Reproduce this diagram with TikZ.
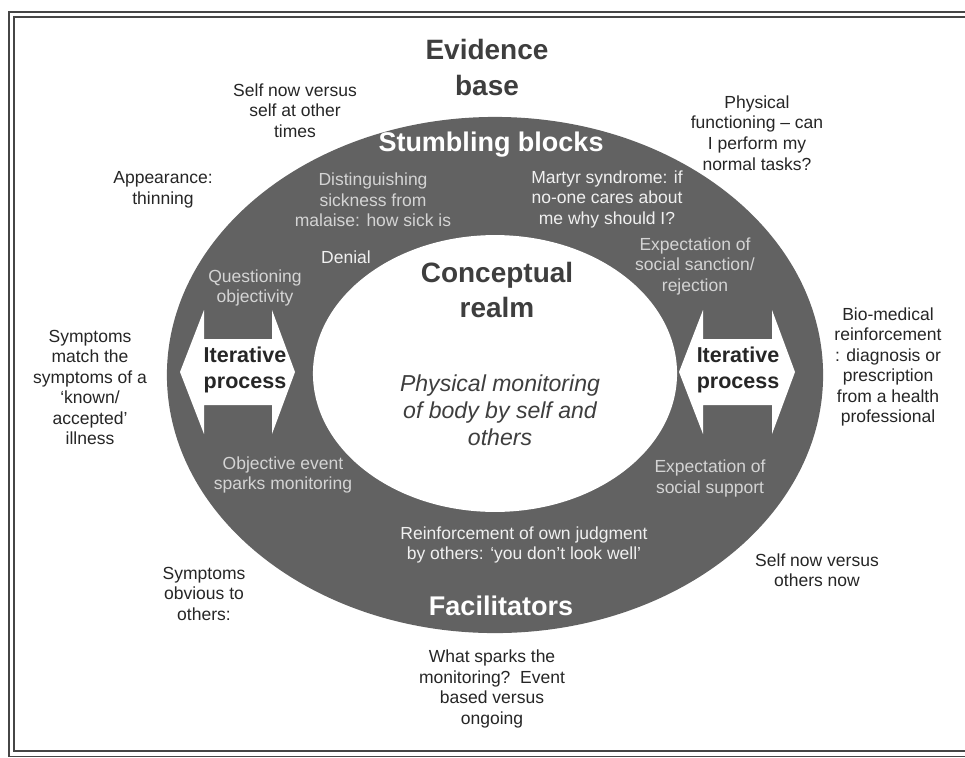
\documentclass[tikz,border=0pt]{standalone}
\usepackage{fontspec}
\setmainfont{Liberation Sans}
\definecolor{ringgray}{RGB}{98,98,98}
\definecolor{ringtext}{RGB}{212,212,212}
\definecolor{outtext}{RGB}{38,38,38}
\definecolor{headtext}{RGB}{62,62,62}
\definecolor{framegray}{RGB}{70,70,70}
\tikzset{
	outlabel/.style={align=center, inner sep=0pt, text=outtext, font=\fontsize{12.45}{14.6}\selectfont},
	ringlabel/.style={outlabel, text=ringtext},
	ringbright/.style={outlabel, text=white!94!black},
	bighead/.style={align=center, inner sep=0pt, text=headtext, font=\bfseries\fontsize{19.9}{24.9}\selectfont},
	ringhead/.style={align=center, inner sep=0pt, text=white, font=\bfseries\fontsize{19.2}{22}\selectfont},
	itertext/.style={align=center, inner sep=0pt, text=outtext, font=\bfseries\fontsize{15.3}{18.1}\selectfont},
	realmtext/.style={align=center, inner sep=0pt, text=headtext, font=\itshape\fontsize{16.4}{19.2}\selectfont},
	blockarrow/.style={fill=white, draw=none}
}
\begin{document}
\begin{tikzpicture}[x=0.025cm, y=-0.025cm]
		\useasboundingbox (0,0) rectangle (965,757);
		\clip (0,0) rectangle (965,757);
		\fill[white] (0,0) rectangle (965,757);
		\draw[framegray, line width=1.1pt] (1100,12) -- (9,12) -- (9,756.5) -- (1100,756.5);
		\draw[framegray, line width=1.1pt] (1100,17) -- (14,17) -- (14,751) -- (1100,751);
		
		\fill[ringgray] (495,375) ellipse [x radius=8.2cm, y radius=6.45cm];
		\fill[white] (495,373.5) ellipse [x radius=4.55cm, y radius=3.46cm];
		
		\fill[blockarrow] (180,372) -- (204,310) -- (204,339) -- (272,339) -- (272,310) -- (295,372)
			-- (272,434) -- (272,405) -- (204,405) -- (204,434) -- cycle;
		\fill[blockarrow] (679,372) -- (703,310) -- (703,339) -- (772,339) -- (772,310) -- (795,372)
			-- (772,434) -- (772,405) -- (703,405) -- (703,434) -- cycle;
		
		\node[bighead] at (487,67.5) (evb) {Evidence\\base};
		\node[outlabel] at (295,110.5) (sst) {Self now versus\\self at other\\times};
		\node[outlabel] at (163,190) (app) {Appearance:\\thinning};
		\node[outlabel] at (757,133) (pfn) {Physical\\functioning – can\\I perform my\\normal tasks?};
		\node[outlabel] at (90,387.5) (sym) {Symptoms\\match the\\symptoms of a\\‘known/\\accepted’\\illness};
		\node[outlabel] at (888,367) (bio) {Bio-medical\\reinforcement\\: diagnosis or\\prescription\\from a health\\professional};
		\node[outlabel] at (204,593.5) (sob) {Symptoms\\obvious to\\others:};
		\node[outlabel] at (817,570) (son) {Self now versus\\others now};
		\node[outlabel] at (492,689) (wsp) {What sparks the\\monitoring?\ \ Event\\based versus\\ongoing};
		
		\node[ringhead] at (491,145) (stb) {Stumbling blocks};
		\node[ringlabel] at (373,200) (dis) {Distinguishing\\sickness from\\malaise: how sick is};
		\node[ringbright] at (607,199) (mar) {Martyr syndrome: if\\no-one cares about\\me why should I?};
		\node[ringbright] at (346,257) (den) {Denial};
		\node[ringlabel] at (255,288) (que) {Questioning\\objectivity};
		\node[ringlabel] at (695,266) (esr) {Expectation of\\social sanction/\\rejection};
		\node[ringlabel] at (283,475) (obj) {Objective event\\sparks monitoring};
		\node[ringlabel] at (710,478.5) (ess) {Expectation of\\social support};
		\node[ringbright] at (524,545) (rei) {Reinforcement of own judgment\\by others: ‘you don’t look well’};
		\node[ringhead] at (501,606) (fac) {Facilitators};
		
		\node[itertext] at (245,370) (itl) {Iterative\\process};
		\node[itertext] at (738,370) (itr) {Iterative\\process};
		
		\node[bighead] at (497,289.5) (cre) {Conceptual\\realm};
		\node[realmtext] at (500,410) (pmb) {Physical monitoring\\of body by self and\\others};
\end{tikzpicture}
\end{document}
